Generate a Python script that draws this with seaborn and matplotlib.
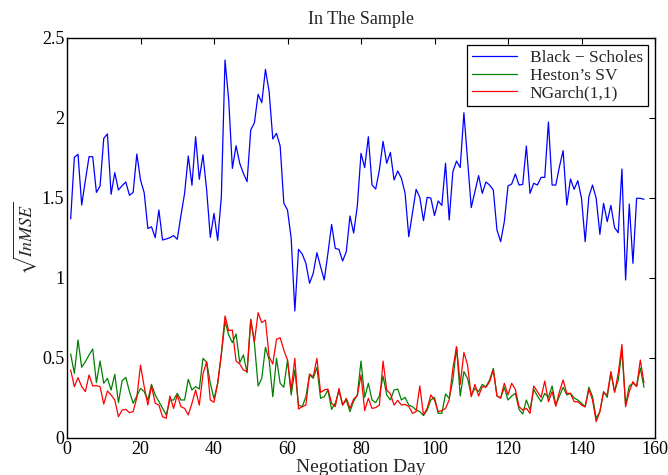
import numpy as np
import pandas as pd
import matplotlib
matplotlib.use("Agg")
import matplotlib.pyplot as plt
import seaborn as sns

days = list(range(1, 158))

black_scholes = [
    1.37, 1.754, 1.773, 1.456, 1.61, 1.758, 1.758, 1.535, 1.575, 1.873,
    1.90, 1.523, 1.658, 1.55, 1.577, 1.60, 1.517, 1.535, 1.775, 1.6125,
    1.533, 1.31, 1.32, 1.252, 1.425, 1.2375, 1.244, 1.252, 1.265, 1.242,
    1.39, 1.529, 1.7625, 1.58, 1.883, 1.617, 1.77, 1.55, 1.254, 1.404,
    1.235, 1.508, 2.3625, 2.1125, 1.685, 1.827, 1.717, 1.654, 1.602, 1.925,
    1.971, 2.148, 2.096, 2.304, 2.165, 1.869, 1.904, 1.825, 1.467, 1.425,
    1.248, 0.794, 1.179, 1.15, 1.092, 0.967, 1.029, 1.158, 1.071, 0.9875,
    1.154, 1.335, 1.185, 1.179, 1.106, 1.165, 1.3875, 1.281, 1.451, 1.779,
    1.690, 1.883, 1.581, 1.556, 1.675, 1.854, 1.717, 1.785, 1.6125, 1.669,
    1.623, 1.529, 1.258, 1.404, 1.554, 1.504, 1.358, 1.504, 1.50, 1.39,
    1.481, 1.454, 1.717, 1.3625, 1.665, 1.731, 1.69, 2.033, 1.7375, 1.44,
    1.54, 1.64, 1.529, 1.60, 1.581, 1.55, 1.30, 1.227, 1.352, 1.575,
    1.5875, 1.65, 1.581, 1.585, 1.825, 1.529, 1.592, 1.581, 1.629, 1.629,
    1.975, 1.581, 1.581, 1.696, 1.796, 1.456, 1.619, 1.554, 1.608, 1.498,
    1.227, 1.508, 1.581, 1.498, 1.273, 1.467, 1.352, 1.454, 1.315, 1.283,
    1.681, 0.9875, 1.4625, 1.092, 1.498, 1.498, 1.492,
]

heston_sv = [
    0.525, 0.404, 0.6125, 0.442, 0.477, 0.519, 0.556, 0.346, 0.481, 0.342,
    0.373, 0.30, 0.398, 0.221, 0.358, 0.379, 0.29, 0.217, 0.2625, 0.31,
    0.29, 0.2375, 0.335, 0.269, 0.227, 0.185, 0.144, 0.2375, 0.2375, 0.279,
    0.2375, 0.2375, 0.367, 0.30, 0.321, 0.306, 0.498, 0.474, 0.342, 0.245,
    0.342, 0.519, 0.727, 0.644, 0.596, 0.65, 0.471, 0.519, 0.408, 0.742,
    0.592, 0.325, 0.373, 0.567, 0.4875, 0.258, 0.498, 0.342, 0.317, 0.4875,
    0.269, 0.425, 0.206, 0.196, 0.258, 0.394, 0.373, 0.442, 0.248, 0.258,
    0.30, 0.179, 0.217, 0.296, 0.206, 0.2375, 0.165, 0.23, 0.269, 0.481,
    0.254, 0.342, 0.2375, 0.221, 0.2625, 0.3875, 0.269, 0.2375, 0.30, 0.306,
    0.2375, 0.254, 0.206, 0.196, 0.175, 0.165, 0.140, 0.175, 0.2375, 0.254,
    0.154, 0.154, 0.275, 0.248, 0.3625, 0.567, 0.2625, 0.415, 0.373, 0.269,
    0.31, 0.29, 0.335, 0.321, 0.3625, 0.435, 0.2625, 0.252, 0.315, 0.2375,
    0.2625, 0.279, 0.179, 0.15, 0.2375, 0.175, 0.304, 0.2625, 0.227, 0.279,
    0.254, 0.325, 0.206, 0.2625, 0.317, 0.269, 0.279, 0.25, 0.2375, 0.217,
    0.196, 0.317, 0.258, 0.123, 0.165, 0.29, 0.254, 0.408, 0.29, 0.3625,
    0.55, 0.206, 0.325, 0.342, 0.325, 0.4375, 0.317,
]

ngarch = [
    0.425, 0.321, 0.377, 0.321, 0.29, 0.394, 0.325, 0.327, 0.321, 0.2125,
    0.294, 0.269, 0.2375, 0.133, 0.175, 0.179, 0.158, 0.165, 0.252, 0.456,
    0.321, 0.206, 0.325, 0.217, 0.206, 0.133, 0.123, 0.2625, 0.185, 0.269,
    0.196, 0.185, 0.144, 0.217, 0.30, 0.206, 0.40, 0.477, 0.2375, 0.223,
    0.342, 0.529, 0.7625, 0.671, 0.675, 0.481, 0.4625, 0.425, 0.415, 0.7375,
    0.602, 0.783, 0.721, 0.7375, 0.508, 0.4625, 0.617, 0.627, 0.55, 0.4875,
    0.30, 0.498, 0.181, 0.196, 0.206, 0.40, 0.383, 0.498, 0.285, 0.30,
    0.306, 0.217, 0.196, 0.31, 0.206, 0.248, 0.185, 0.244, 0.264, 0.394,
    0.171, 0.248, 0.185, 0.19, 0.206, 0.481, 0.30, 0.275, 0.206, 0.235,
    0.206, 0.21, 0.198, 0.154, 0.165, 0.325, 0.144, 0.185, 0.269, 0.2375,
    0.165, 0.171, 0.185, 0.2375, 0.435, 0.571, 0.335, 0.535, 0.456, 0.258,
    0.335, 0.2625, 0.321, 0.317, 0.352, 0.425, 0.2625, 0.248, 0.342, 0.27,
    0.342, 0.304, 0.196, 0.175, 0.185, 0.154, 0.325, 0.29, 0.254, 0.356,
    0.227, 0.29, 0.198, 0.29, 0.3625, 0.279, 0.279, 0.227, 0.227, 0.206,
    0.194, 0.304, 0.2375, 0.102, 0.165, 0.285, 0.269, 0.415, 0.285, 0.404,
    0.585, 0.196, 0.29, 0.352, 0.321, 0.4875, 0.346,
]

series_names = ["Black \u2212 Scholes", "Heston\u2019s SV", "NGarch(1,1)"]
colors = ["#0000ff", "#008000", "#ff0000"]

df = pd.concat([
    pd.DataFrame({"day": days, "value": black_scholes, "model": series_names[0]}),
    pd.DataFrame({"day": days, "value": heston_sv, "model": series_names[1]}),
    pd.DataFrame({"day": days, "value": ngarch, "model": series_names[2]}),
], ignore_index=True)

sns.set_style("white")
plt.rcParams["font.family"] = ["Liberation Serif", "DejaVu Serif"]
plt.rcParams["mathtext.fontset"] = "stix"

fig = plt.figure(figsize=(6.68, 4.75), dpi=100)
ax = fig.add_axes([67 / 668, 37 / 475, (655 - 67) / 668, (438 - 38) / 475])

sns.lineplot(data=df, x="day", y="value", hue="model",
             palette=dict(zip(series_names, colors)), linewidth=0.9,
             ax=ax, legend=True, estimator=None, sort=False)

ax.set_xlim(0, 160)
ax.set_ylim(0, 2.5)
ax.set_xticks(range(0, 161, 20))
ax.set_yticks([0, 0.5, 1, 1.5, 2, 2.5])
ax.set_yticklabels(["0", "0.5", "1", "1.5", "2", "2.5"])
ax.tick_params(direction="in", top=True, right=True, length=4, width=0.8,
               labelsize=13, pad=2, colors="black")
for s in ax.spines.values():
    s.set_visible(True)
    s.set_color("black")
    s.set_linewidth(1.0)

ax.set_title("In The Sample", fontsize=13, pad=10)
ax.set_xlabel("Negotiation Day", fontsize=14, labelpad=1)
ax.set_ylabel(r"$\sqrt{InMSE}$", fontsize=13, labelpad=2)

leg = ax.legend(loc="upper right", fontsize=12.5, frameon=True, fancybox=False,
                edgecolor="black", framealpha=1, handlelength=2.6,
                borderpad=0.3, labelspacing=0.08, handletextpad=0.7,
                borderaxespad=0.0, bbox_to_anchor=(0.988, 0.983))
leg.get_frame().set_linewidth(0.9)
for h in leg.get_lines():
    h.set_linewidth(0.9)

fig.savefig("out.png", dpi=100)
